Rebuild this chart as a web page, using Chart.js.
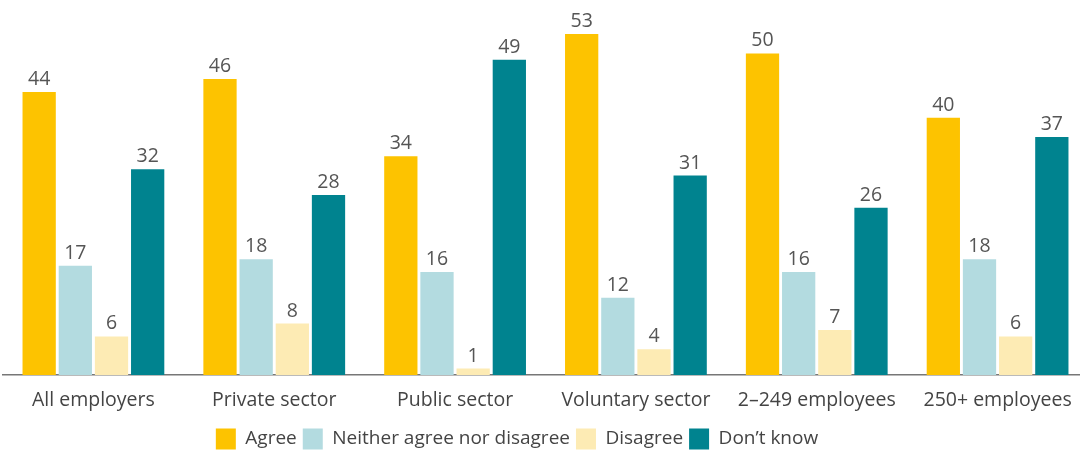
<!DOCTYPE html>
<html>
<head>
<meta charset="utf-8">
<script src="https://cdn.jsdelivr.net/npm/chart.js@4"></script>
<style>
  html, body { margin: 0; padding: 0; background: #fff; overflow: hidden; }
  #wrap { width: 1088px; height: 450px; position: relative; }
</style>
</head>
<body>
<div id="wrap"><canvas id="chart"></canvas></div>
<script>
const categories = ["All employers", "Private sector", "Public sector", "Voluntary sector", "2\u2013249 employees", "250+ employees"];
const agree = [44, 46, 34, 53, 50, 40];
const neither = [17, 18, 16, 12, 16, 18];
const disagree = [6, 8, 1, 4, 7, 6];
const dontKnow = [32, 28, 49, 31, 26, 37];

const seriesNames = ["Agree", "Neither agree nor disagree", "Disagree", "Don\u2019t know"];
const seriesColors = ["#fdc300", "#b3dbe0", "#fdebb4", "#00838f"];

const FONT = "'Open Sans', sans-serif";

// writes each bar's value just above it
const valueLabels = {
    id: "valueLabels",
    afterDatasetsDraw(chart) {
        const ctx = chart.ctx;
        ctx.save();
        ctx.font = "19.5px " + FONT;
        ctx.fillStyle = "#555";
        ctx.textAlign = "center";
        ctx.textBaseline = "alphabetic";
        chart.data.datasets.forEach((ds, i) => {
            chart.getDatasetMeta(i).data.forEach((bar, j) => {
                ctx.fillText(ds.data[j], bar.x, bar.y - 7);
            });
        });
        ctx.restore();
    }
};

// legend sits a little left of centre
const legendShift = {
    id: "legendShift",
    afterLayout(chart) {
        const lg = chart.legend;
        if (lg) lg.right = lg.left + lg.width - 57;
    }
};

const ctx = document.getElementById("chart").getContext("2d");
const datasets = [agree, neither, disagree, dontKnow].map((values, i) => ({
    label: seriesNames[i],
    data: values,
    backgroundColor: seriesColors[i],
    borderWidth: 0,
    categoryPercentage: 0.8,
    barPercentage: 0.92
}));

new Chart(ctx, {
    type: "bar",
    data: { labels: categories, datasets: datasets },
    plugins: [valueLabels, legendShift],
    options: {
        responsive: true,
        maintainAspectRatio: false,
        animation: false,
        layout: { padding: { left: 3, right: 0, top: 0, bottom: -9.5 } },
        plugins: {
            tooltip: { enabled: false },
            legend: {
                position: "bottom",
                labels: {
                    font: { family: FONT, size: 19 },
                    color: "#444",
                    boxWidth: 20,
                    boxHeight: 21,
                    padding: 6
                }
            }
        },
        scales: {
            x: {
                grid: { display: false, drawTicks: false },
                border: { color: "#777", width: 1.5 },
                ticks: {
                    font: { family: FONT, size: 19.5, lineHeight: 1 },
                    color: "#444",
                    padding: 16
                },
                afterFit(scale) {
                    scale.height = 47.5;
                }
            },
            y: {
                display: false,
                min: 0,
                max: 58.3
            }
        }
    }
});
</script>
</body>
</html>
